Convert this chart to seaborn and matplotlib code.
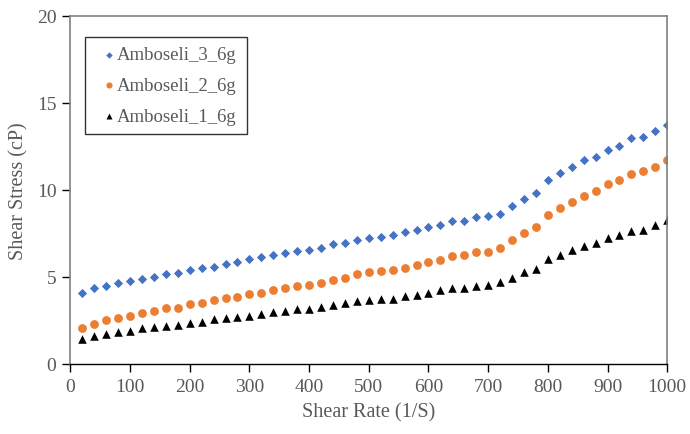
import matplotlib
matplotlib.use("Agg")
import matplotlib.pyplot as plt
import numpy as np
import pandas as pd
import seaborn as sns

# shear rate (1/S)
shear_rate = [20, 40, 60, 80, 100, 120, 140, 160, 180, 200,
              220, 240, 260, 280, 300, 320, 340, 360, 380, 400,
              420, 440, 460, 480, 500, 520, 540, 560, 580, 600,
              620, 640, 660, 680, 700, 720, 740, 760, 780, 800,
              820, 840, 860, 880, 900, 920, 940, 960, 980, 1000]

amboseli_3 = [4.10, 4.35, 4.48, 4.64, 4.77, 4.90, 5.02, 5.15, 5.23, 5.40,
              5.53, 5.59, 5.74, 5.88, 6.01, 6.13, 6.28, 6.35, 6.47, 6.53,
              6.66, 6.87, 6.98, 7.12, 7.25, 7.32, 7.40, 7.58, 7.69, 7.86,
              7.98, 8.24, 8.24, 8.45, 8.53, 8.63, 9.10, 9.48, 9.83, 10.55,
              10.99, 11.34, 11.72, 11.91, 12.31, 12.52, 12.98, 13.05, 13.38, 13.76]

amboseli_2 = [2.06, 2.29, 2.52, 2.65, 2.77, 2.92, 3.05, 3.19, 3.23, 3.42,
              3.51, 3.65, 3.78, 3.87, 4.03, 4.10, 4.27, 4.35, 4.47, 4.56,
              4.68, 4.83, 4.94, 5.15, 5.27, 5.35, 5.40, 5.53, 5.69, 5.88,
              5.99, 6.20, 6.28, 6.45, 6.45, 6.66, 7.12, 7.52, 7.86, 8.57,
              8.97, 9.29, 9.68, 9.94, 10.32, 10.55, 10.94, 11.07, 11.34, 11.72]

amboseli_1 = [1.43, 1.62, 1.72, 1.81, 1.91, 2.04, 2.10, 2.16, 2.25, 2.35,
              2.44, 2.58, 2.65, 2.71, 2.77, 2.86, 2.96, 3.02, 3.15, 3.15,
              3.28, 3.38, 3.49, 3.61, 3.68, 3.72, 3.76, 3.89, 3.95, 4.10,
              4.24, 4.35, 4.35, 4.48, 4.56, 4.71, 4.96, 5.31, 5.48, 6.01,
              6.28, 6.53, 6.77, 6.97, 7.25, 7.39, 7.65, 7.69, 7.98, 8.26]

series = [
    ("Amboseli_3_6g", amboseli_3, "#4472C4", "D", 22),
    ("Amboseli_2_6g", amboseli_2, "#ED7D31", "o", 40),
    ("Amboseli_1_6g", amboseli_1, "#000000", "^", 38),
]

sns.set_theme(style="white")
plt.rcParams["font.family"] = ["Liberation Serif", "DejaVu Serif"]
grey = "#595959"

fig = plt.figure(figsize=(6.9, 4.35), dpi=100)
ax = fig.add_axes([0.102, 0.161, 0.865, 0.8])

for name, vals, color, marker, size in series:
    df = pd.DataFrame({"rate": shear_rate, "stress": vals})
    sns.scatterplot(data=df, x="rate", y="stress", color=color, marker=marker,
                    s=size, linewidth=0, label=name, ax=ax)

ax.set_xlim(0, 1000)
ax.set_ylim(0, 20)
ax.set_xticks(np.arange(0, 1001, 100))
ax.set_yticks(np.arange(0, 21, 5))
ax.set_xlabel("Shear Rate (1/S)", fontsize=14.5, color=grey, labelpad=5)
ax.set_ylabel("Shear Stress (cP)", fontsize=14.5, color=grey, labelpad=6)
ax.tick_params(axis="both", labelsize=14, labelcolor=grey, direction="out",
               length=6, width=1, color="#000000", bottom=True, left=True, pad=4)

for side in ["top", "right", "left"]:
    ax.spines[side].set_color("#808080")
    ax.spines[side].set_linewidth(1.2)
ax.spines["bottom"].set_color("#000000")
ax.spines["bottom"].set_linewidth(1)

# legend box in figure pixels: x 85..247, y 38..132
leg = ax.legend(loc="upper left",
                bbox_to_anchor=(85 / 690, 1 - 132 / 435, 162 / 690, 94 / 435),
                bbox_transform=fig.transFigure, mode="expand", borderaxespad=0,
                frameon=True, fancybox=False, fontsize=13.5,
                handletextpad=-0.4, handlelength=1.6, labelspacing=0.72,
                borderpad=0.5, markerscale=0.7)
leg.get_frame().set_edgecolor("#000000")
leg.get_frame().set_linewidth(1)
for t in leg.get_texts():
    t.set_color(grey)

fig.savefig("out.png", dpi=100)
